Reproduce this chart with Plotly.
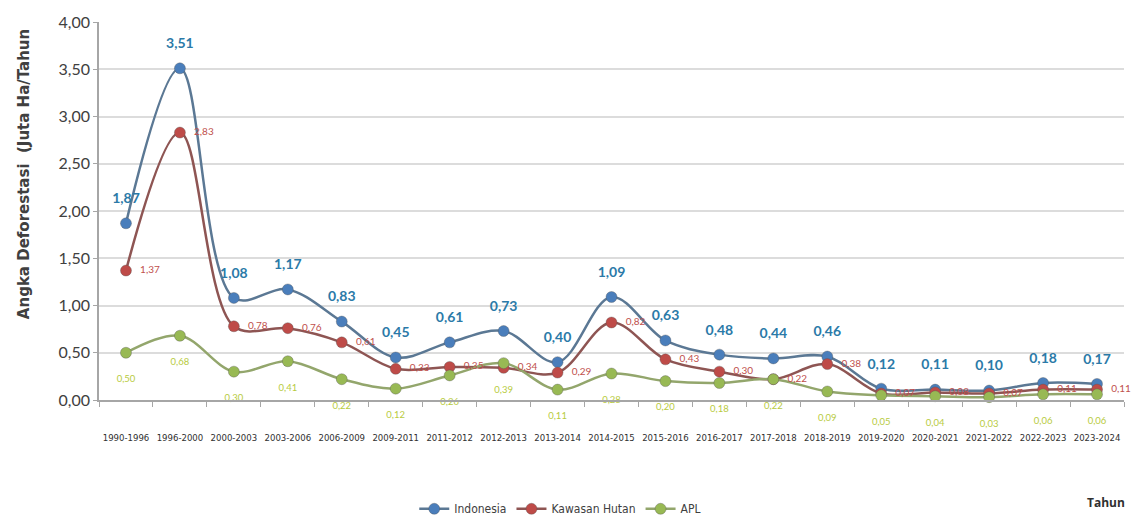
import plotly.graph_objects as go

periods = ["1990-1996", "1996-2000", "2000-2003", "2003-2006", "2006-2009", "2009-2011",
           "2011-2012", "2012-2013", "2013-2014", "2014-2015", "2015-2016", "2016-2017",
           "2017-2018", "2018-2019", "2019-2020", "2020-2021", "2021-2022", "2022-2023",
           "2023-2024"]
indonesia = [1.87, 3.51, 1.08, 1.17, 0.83, 0.45, 0.61, 0.73, 0.40, 1.09, 0.63, 0.48,
             0.44, 0.46, 0.12, 0.11, 0.10, 0.18, 0.17]
kawasan_hutan = [1.37, 2.83, 0.78, 0.76, 0.61, 0.33, 0.35, 0.34, 0.29, 0.82, 0.43, 0.30,
                 0.22, 0.38, 0.07, 0.08, 0.07, 0.11, 0.11]
apl = [0.50, 0.68, 0.30, 0.41, 0.22, 0.12, 0.26, 0.39, 0.11, 0.28, 0.20, 0.18,
       0.22, 0.09, 0.05, 0.04, 0.03, 0.06, 0.06]
y_ticks = [0, 0.5, 1.0, 1.5, 2.0, 2.5, 3.0, 3.5, 4.0]

series = [
    ("Indonesia", indonesia, "#5b7894", "#4a7ebb"),
    ("Kawasan Hutan", kawasan_hutan, "#8e5553", "#be4b48"),
    ("APL", apl, "#93a66c", "#98b954"),
]

fig = go.Figure()
for name, vals, lc, mc in series:
    fig.add_trace(go.Scatter(
        x=periods, y=vals, name=name, mode="lines+markers",
        line=dict(color=lc, width=2.5, shape="spline", smoothing=1.0),
        marker=dict(color=mc, size=11, line=dict(color="rgba(80,80,80,0.35)", width=1)),
        hoverinfo="skip", cliponaxis=False,
    ))

# data labels
label_specs = [
    (indonesia, "top center", 25, dict(family="Lato", size=14, color="#2b7aa8", weight="bold")),
    (kawasan_hutan, "middle right", 21, dict(family="Lato", size=10, color="#c0504d")),
    (apl, "bottom center", 34, dict(family="Lato", size=9.5, color="#b8cb3e")),
]
for vals, pos, sz, tf in label_specs:
    fig.add_trace(go.Scatter(
        x=periods, y=vals, mode="markers+text", showlegend=False,
        marker=dict(color="rgba(0,0,0,0)", size=sz),
        texttemplate="%{y:.2f}", textposition=pos, textfont=tf,
        hoverinfo="skip", cliponaxis=False,
    ))

fig.update_layout(
    width=1135, height=516,
    margin=dict(l=99, r=11, t=22, b=116, autoexpand=False),
    paper_bgcolor="white", plot_bgcolor="white",
    separators=",.",
    showlegend=True,
    legend=dict(orientation="h", x=0.45, y=0.014, xref="paper", yref="container",
                xanchor="center", yanchor="middle",
                font=dict(family="DejaVu Sans Condensed", size=12, color="#404040"),
                itemwidth=30, traceorder="normal"),
    xaxis=dict(
        type="category", range=[-0.5, 18.5], automargin=False,
        showline=True, linecolor="#a6a6a6", linewidth=1.5,
        ticks="outside", tickson="boundaries", ticklen=5, tickcolor="#a6a6a6",
        tickfont=dict(family="DejaVu Sans Condensed", size=9.5, color="#303030"),
        ticklabelstandoff=28, showgrid=False, tickangle=0,
    ),
    yaxis=dict(
        range=[0, 4.0], tickvals=y_ticks, tickformat=".2f", automargin=False,
        showline=True, linecolor="#a6a6a6", linewidth=1.5,
        ticks="outside", ticklen=4, tickcolor="#a6a6a6",
        gridcolor="#dcdcdc", gridwidth=1.5,
        tickfont=dict(family="Lato", size=16, color="#404040"),
        zeroline=False,
    ),
    annotations=[
        dict(text="<b>Angka Deforestasi  (Juta Ha/Tahun</b>", textangle=-90,
             xref="paper", yref="paper", x=-0.073, y=0.598, xanchor="center", yanchor="middle",
             showarrow=False, font=dict(family="DejaVu Sans", size=15, color="#404040")),
        dict(text="<b>Tahun</b>", xref="paper", yref="paper", x=0.982, y=-0.272,
             xanchor="center", yanchor="middle", showarrow=False,
             font=dict(family="Open Sans", size=12, color="#303030")),
    ],
)

fig.write_html("out.html", config={"displayModeBar": False})

# remove default page margin so the figure sits at the window's top-left corner
with open("out.html", "r", encoding="utf-8") as f:
    html = f.read()
html = html.replace("<head>", "<head><style>html,body{margin:0;padding:0;overflow:hidden;}</style>", 1)
with open("out.html", "w", encoding="utf-8") as f:
    f.write(html)
